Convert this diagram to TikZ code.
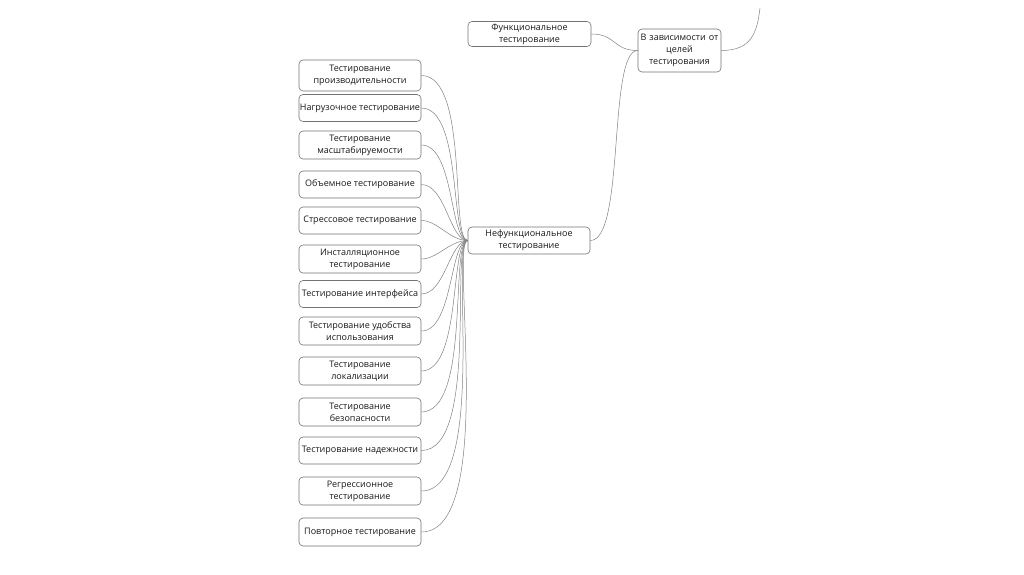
\documentclass[tikz,border=0pt]{standalone}
\usepackage{fontspec}
\setmainfont{Open Sans}
\begin{document}
\begin{tikzpicture}[x=1pt,y=-1pt,
  box/.style={draw=black!55, line width=0.6pt, rounded corners=4pt, fill=white, align=center,
    font=\fontsize{9}{12}\selectfont, inner sep=1pt, text=black!90},
  lnk/.style={draw=black!50, line width=0.5pt}]
\useasboundingbox (0,0) rectangle (1024,574);
\foreach \n/\y/\h/\t in {
 a/75.5/31/{Тестирование\\производительности},
 b/108/27/{Нагрузочное тестирование},
 c/145/28/{Тестирование\\масштабируемости},
 d/184.5/27/{Объемное тестирование},
 e/220.5/27/{Стрессовое тестирование},
 f/259/28/{Инсталляционное\\тестирование},
 g/294/27/{Тестирование интерфейса},
 h/331/28/{Тестирование удобства\\использования},
 i/371/28/{Тестирование\\локализации},
 j/412/28/{Тестирование\\безопасности},
 k/450.5/27/{Тестирование надежности},
 l/491/28/{Регрессионное\\тестирование},
 m/532/28/{Повторное тестирование}}{
  \node[box, minimum width=122pt, minimum height=\h pt] (\n) at (360,\y) {\t};
}
\node[box, minimum width=122pt, minimum height=27pt] (nf) at (529,240.5) {Нефункциональное\\тестирование};
\node[box, minimum width=123pt, minimum height=25pt] (fn) at (529.5,34) {Функциональное\\тестирование};
\node[box, minimum width=83pt, minimum height=43pt, text width=80pt] (root) at (679.5,50.5) {В зависимости от\\целей\\тестирования};
\coordinate (top) at (760,8);
\foreach \n/\y in {a/75.5,b/108,c/145,d/184.5,e/220.5,f/259,g/294,h/331,i/371,j/412,k/450.5,l/491,m/532}{
  \pgfmathsetmacro{\cc}{0.22*abs(\y-240.5)+12}
  \draw[lnk] (nf.west) .. controls +(-18,0) and +(\cc,0) .. (\n.east);
}
\draw[lnk] (fn.east) .. controls +(25,0) and +(-25,0) .. (root.west);
\draw[lnk] (nf.east) .. controls +(35,0) and +(-30,0) .. (root.west);
\draw[lnk] (root.east) .. controls +(30,0) and +(-3,25) .. (top);
\end{tikzpicture}
\end{document}
